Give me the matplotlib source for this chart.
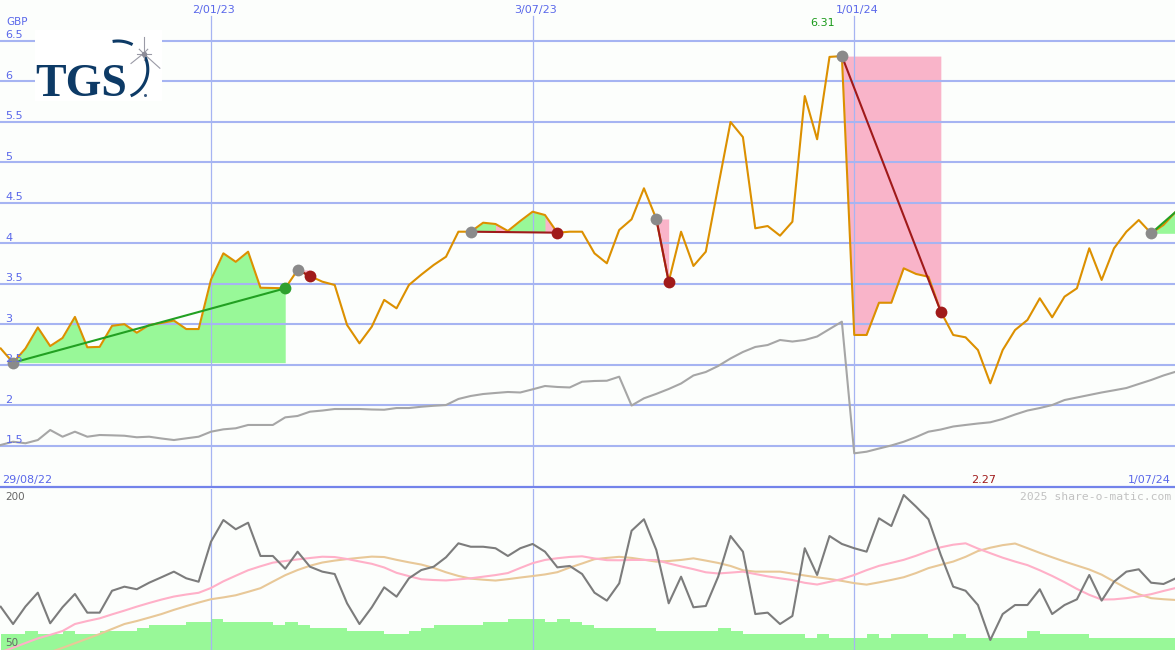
import numpy as np
import pandas as pd
import matplotlib
matplotlib.use("Agg")
import matplotlib.pyplot as plt
import matplotlib.dates as mdates
import matplotlib.transforms as mtransforms
from matplotlib.patches import Rectangle

# ---------------- data ----------------
weeks = pd.date_range("2022-09-05", periods=96, freq="7D")

price = [2.70, 2.525, 2.70, 2.96, 2.73, 2.83, 3.09, 2.715, 2.72, 2.98,
         3.00, 2.895, 2.99, 3.015, 3.045, 2.94, 2.94, 3.55, 3.875, 3.77,
         3.895, 3.45, 3.447, 3.443, 3.67, 3.595, 3.525, 3.484, 2.99, 2.764,
         2.97, 3.30, 3.196, 3.484, 3.612, 3.731, 3.833, 4.142, 4.142, 4.253,
         4.237, 4.151, 4.274, 4.389, 4.348, 4.13, 4.142, 4.142, 3.875, 3.752,
         4.163, 4.295, 4.678, 4.299, 3.525, 4.142, 3.719, 3.895, 4.70, 5.496,
         5.31, 4.184, 4.212, 4.093, 4.265, 5.817, 5.283, 6.30, 6.31, 2.867,
         2.867, 3.265, 3.265, 3.69, 3.62, 3.586, 3.154, 2.867, 2.838, 2.681,
         2.27, 2.681, 2.928, 3.052, 3.32, 3.085, 3.34, 3.443, 3.937, 3.546,
         3.937, 4.142, 4.286, 4.122, 4.225, 4.389]

compare = [1.509, 1.549, 1.53, 1.57, 1.694, 1.611, 1.673, 1.611, 1.632, 1.628,
           1.623, 1.604, 1.611, 1.589, 1.57, 1.591, 1.611, 1.673, 1.702, 1.715,
           1.756, 1.756, 1.756, 1.85, 1.867, 1.92, 1.934, 1.953, 1.953, 1.953,
           1.947, 1.944, 1.965, 1.965, 1.981, 1.993, 2.002, 2.077, 2.114, 2.138,
           2.151, 2.163, 2.157, 2.196, 2.237, 2.225, 2.219, 2.29, 2.299, 2.302,
           2.352, 1.996, 2.085, 2.14, 2.20, 2.268, 2.367, 2.41, 2.484, 2.577,
           2.657, 2.719, 2.743, 2.805, 2.786, 2.805, 2.848, 2.94, 3.031, 1.406,
           1.426, 1.465, 1.503, 1.549, 1.607, 1.673, 1.70, 1.737, 1.756, 1.774,
           1.789, 1.83, 1.885, 1.934, 1.965, 2.002, 2.064, 2.095, 2.126, 2.157,
           2.184, 2.212, 2.262, 2.311, 2.367, 2.414]

osc = [90.3, 74.2, 90.5, 103.4, 74.9, 89.9, 102.2, 84.8, 84.8, 105.2,
       109, 106.6, 112.7, 117.8, 123, 116.8, 113.6, 150.9, 171.1, 162.5,
       168.6, 137.6, 137.6, 125.7, 141.6, 127.6, 123, 120.8, 93.5, 74.2,
       89.8, 108.4, 99.7, 116.8, 124.5, 127.6, 136.4, 149.4, 146.2, 146.2,
       144.8, 137.6, 144.8, 148.8, 141.6, 127, 128.3, 120.8, 103.4, 96.0,
       112.1, 161.1, 171.8, 143.2, 93.5, 118.3, 89.8, 91, 118.3, 156.2,
       141.6, 83.5, 84.8, 74.2, 81.7, 144.8, 119.9, 156.2, 148.8, 144.8,
       141.6, 172.7, 165.5, 194.4, 183.5, 171.8, 138.5, 109, 105.2, 91.9,
       59.3, 83.5, 91.9, 91.9, 106.6, 83.5, 91.9, 97.2, 119.9, 96,
       113.6, 123, 125.2, 112.7, 111.5, 116.8]

ma_fast = [48, 52.1, 56.5, 60.8, 64.1, 67.7, 74.2, 77, 79.5, 83.2,
           86.7, 90.4, 93.8, 97, 99.8, 101.7, 103.3, 107.8, 114, 119.2,
           124.3, 128, 131.4, 132.9, 134.4, 135.7, 136.9, 136.6, 134.8, 132.5,
           130.3, 126.9, 121.9, 118.8, 115.9, 115.2, 114.8, 115.8, 116.8, 118.3,
           119.8, 121.7, 126.4, 130.9, 133.9, 135.5, 136.7, 137.3, 135.3, 133.7,
           133.6, 133.9, 133.9, 133.8, 130.7, 127.9, 125.3, 122.4, 121.3, 122.1,
           123, 120.8, 118.6, 116.8, 115.2, 112.6, 111, 113.5, 116.1, 119.9,
           124.4, 128.4, 131.2, 134, 137.8, 142.1, 145.7, 148.1, 149.4, 144.5,
           140.2, 136, 132.4, 129.1, 124.3, 119, 113.2, 106.9, 101.4, 97,
           97.2, 98.3, 99.9, 102, 105, 107.8]

ma_slow = [np.nan, np.nan, np.nan, np.nan,
           48, 52, 56.3, 60.6, 64.9, 69.6, 74.2, 77, 80.2, 83.5,
           87.4, 90.9, 94.2, 97.3, 99, 101, 104.2, 107.6, 113.7, 119.7,
           124.5, 128.5, 131.5, 133.3, 134.7, 135.9, 137, 136.6, 134, 131.7,
           129.6, 126.5, 122.4, 119, 116.5, 115.5, 114.7, 116, 117.5, 118.9,
           120.4, 122.5, 126.8, 130.6, 134.6, 135.8, 136.8, 135.8, 134.1, 132.3,
           132.9, 133.9, 135.4, 133.3, 131.1, 128.3, 124.3, 123, 123, 123,
           121.2, 119.4, 117.7, 116.2, 114.4, 112.3, 110.9, 113, 115.3, 117.8,
           121.7, 126.3, 129.4, 132.4, 136.8, 142.2, 145.3, 147.7, 149.2, 144.9,
           140.5, 136.4, 132.4, 128.7, 125, 120.2, 113.8, 107.6, 102, 98.3,
           97.3, 96.6]

vol_level = [64.6, 64.6, 67.7, 64.6, 64.6, 67.7, 64.6, 64.6, 67.7, 67.7,
             67.7, 70.8, 73.3, 73.3, 73.3, 76.4, 76.4, 78.9, 76.4, 76.4,
             76.4, 76.4, 73.3, 76.4, 73.3, 70.8, 70.8, 70.8, 67.7, 67.7,
             67.7, 64.6, 64.6, 67.7, 70.8, 73.3, 73.3, 73.3, 73.3, 76.4,
             76.4, 78.9, 78.9, 78.9, 76.4, 78.9, 76.4, 73.3, 70.8, 70.8,
             70.8, 70.8, 70.8, 67.7, 67.7, 67.7, 67.7, 67.7, 70.8, 67.7,
             64.6, 64.6, 64.6, 64.6, 64.6, 61.5, 64.6, 61.5, 61.5, 61.5,
             64.6, 61.5, 64.6, 64.6, 64.6, 61.5, 61.5, 64.6, 61.5, 61.5,
             61.5, 61.5, 61.5, 67.7, 64.6, 64.6, 64.6, 64.6, 61.5, 61.5,
             61.5, 61.5, 61.5, 61.5, 61.5, 61.5]

# trades (1-based week numbers)
trade_entry = [2, 25, 39, 54, 69, 94]
trade_exit = [24, 26, 46, 55, 77, 96]
trade_open = [False, False, False, False, False, True]
pink_segments = [(41, 42), (45, 46)]   # drawdown patches inside trade 3

grid_levels = [6.5, 6, 5.5, 5, 4.5, 4, 3.5, 3, 2.5, 2, 1.5]
grid_labels = ["6.5", "6", "5.5", "5", "4.5", "4", "3.5", "3", "2.5", "2", "1.5"]
vline_dates = ["2023-01-02", "2023-07-03", "2024-01-01"]
vline_labels = ["2/01/23", "3/07/23", "1/01/24"]

# ---------------- styling ----------------
BG = "#fcfefc"
GRID = "#a6b4f2"
BLUE_TXT = "#5a68ea"
ORANGE = "#dc9000"
GREEN_FILL = "#98f898"
PINK_FILL = "#f9b4c9"
GREEN_LINE = "#22a022"
DARK_RED = "#a01a1a"
GRAY_DOT = "#8a8a8a"

W, H = 1175, 650
fig = plt.figure(figsize=(W / 100, H / 100), dpi=100, facecolor=BG)

x = mdates.date2num(weeks)
d0 = mdates.date2num(pd.Timestamp("2022-08-29"))
pxw = 12.37
xl = d0 + 7 * (18 - 211 / pxw)
xr = d0 + 7 * (18 + (W - 211) / pxw)

# main price axes: pixel rows 0..487
ax = fig.add_axes([0, (H - 487) / H, 1, 487 / H])
ax.set_facecolor(BG)
ytop = 6.5 + 40.7 / 81.0
ax.set_ylim(ytop - 487 / 81.0, ytop)
ax.set_xlim(xl, xr)
ax.axis("off")

# lower indicator axes: pixel rows 489..650
ax2 = fig.add_axes([0, 0, 1, 161 / H])
ax2.set_facecolor(BG)
ax2.set_ylim(50, 200)
ax2.set_xlim(xl, xr)
ax2.axis("off")

# pixel overlay
axp = fig.add_axes([0, 0, 1, 1], zorder=10)
axp.set_xlim(0, W)
axp.set_ylim(H, 0)
axp.axis("off")
axp.patch.set_visible(False)

price_a = np.array(price)

# grid
for lv in grid_levels:
    ax.axhline(lv, color=GRID, lw=1.5, zorder=2)
for d in vline_dates:
    xv = mdates.date2num(pd.Timestamp(d))
    ax.axvline(xv, ymin=0, ymax=(487 - 16) / 487, color=GRID, lw=0.9, zorder=2)
    ax2.axvline(xv, color=GRID, lw=0.9, zorder=2)

# trade fills
for k, (e, xo) in enumerate(zip(trade_entry, trade_exit)):
    s = slice(e - 1, xo)
    lvl = price_a[e - 1]
    xs, ps = x[s], price_a[s]
    ax.fill_between(xs, ps, lvl, where=ps >= lvl, interpolate=True,
                    color=GREEN_FILL, lw=0, zorder=1)
    ax.fill_between(xs, ps, lvl, where=ps <= lvl, interpolate=True,
                    color=PINK_FILL, lw=0, zorder=1)
    if k == 2:
        for a, b in pink_segments:
            ax.fill_between(x[a - 1:b], price_a[a - 1:b], lvl,
                            color=PINK_FILL, lw=0, zorder=1.1)

# comparison line and price
ax.plot(x, compare, color="#a6a6a6", lw=1.5, zorder=3)
ax.plot(x, price, color=ORANGE, lw=1.5, zorder=4)

# trade lines and markers
for e, xo, op in zip(trade_entry, trade_exit, trade_open):
    p0, p1 = price_a[e - 1], price_a[xo - 1]
    col = GREEN_LINE if p1 > p0 else DARK_RED
    ax.plot([x[e - 1], x[xo - 1]], [p0, p1], color=col, lw=1.5, zorder=5)
    ax.plot(x[e - 1], p0, "o", ms=8.5, color=GRAY_DOT, mew=0, zorder=6)
    if not op:
        mcol = "#2ea02e" if p1 > p0 else DARK_RED
        ax.plot(x[xo - 1], p1, "o", ms=8.5, color=mcol, mew=0, zorder=6)

# lower panel
ax2.bar(x, np.array(vol_level) - 50, bottom=50, width=7, align="edge",
        color=GREEN_FILL, lw=0, zorder=1)
ax2.plot(x, ma_slow, color="#e8c898", lw=1.5, zorder=3)
ax2.plot(x, ma_fast, color="#ffb0c8", lw=1.5, zorder=3)
ax2.plot(x, osc, color="#7c7c7c", lw=1.5, zorder=4)

# separator line
axp.plot([0, W], [486.5, 486.5], color="#7383ea", lw=1.6)

# y labels
ytrans = mtransforms.offset_copy(
    mtransforms.blended_transform_factory(axp.transData, ax.transData),
    fig=fig, y=2.4, units="dots")
for lv, lb in zip(grid_levels, grid_labels):
    axp.text(5.5, lv, lb, transform=ytrans, fontsize=8, color=BLUE_TXT,
             va="baseline", ha="left", family="DejaVu Sans")
axp.text(6, 25, "GBP", fontsize=7.5, color=BLUE_TXT, va="baseline", ha="left")

# date labels at top
xtrans = mtransforms.blended_transform_factory(ax.transData, axp.transData)


def shifted(dx):
    return mtransforms.offset_copy(xtrans, fig=fig, x=dx, units="dots")


for d, lb in zip(vline_dates, vline_labels):
    xv = mdates.date2num(pd.Timestamp(d))
    axp.text(xv, 13.3, lb, transform=shifted(3), fontsize=8, color=BLUE_TXT,
             ha="center", va="baseline")

# max / min labels
imax = int(np.argmax(price_a))
imin = int(np.argmin(price_a))
axp.text(x[imax], 26, f"{price_a[imax]:.2f}", transform=shifted(-19), fontsize=8,
         color="#1a9a1a", ha="center", va="baseline")
axp.text(x[imin], 483, f"{price_a[imin]:.2f}", transform=shifted(-7), fontsize=8,
         color=DARK_RED, ha="center", va="baseline")

axp.text(2, 483, "29/08/22", fontsize=8, color=BLUE_TXT, ha="left", va="baseline")
axp.text(1171, 483, "1/07/24", fontsize=8, color=BLUE_TXT, ha="right", va="baseline")
axp.text(1171, 500, "2025 share-o-matic.com", fontsize=8.2, color="#c2c2c2",
         ha="right", va="baseline", family="DejaVu Sans Mono")
axp.text(5, 499.5, "200", fontsize=7.5, color="#666666", ha="left", va="baseline")
axp.text(5.5, 646, "50", fontsize=7.5, color="#666666", ha="left", va="baseline")

# logo
axp.add_patch(Rectangle((35, 30), 127, 71, facecolor="white", edgecolor="none"))
axp.text(35, 95.5, "TGS", fontsize=33, fontweight="bold", color="#0d3a66",
         family="Liberation Serif", ha="left", va="baseline")
th = np.linspace(np.radians(-100), np.radians(-62), 30)
axp.plot(118 + 31 * np.cos(th), 72 + 31 * np.sin(th), color="#0d3a66", lw=2.2,
         solid_capstyle="butt")
th = np.linspace(np.radians(-30), np.radians(62), 40)
r = 31 - 4 * (th - th[0]) / (th[-1] - th[0])
axp.plot(118 + r * np.cos(th), 72 + r * np.sin(th), color="#0d3a66", lw=2.2,
         solid_capstyle="butt")
cx, cy = 143.5, 53.5
for dx, dy, L in [(0, -1, 17), (0, 1, 6), (1, 0, 7), (-1, 0, 7),
                  (-1, 0.8, 16), (1, 0.9, 22), (1, -1, 6), (-1, -1, 6)]:
    n = np.hypot(dx, dy)
    axp.plot([cx, cx + dx / n * L], [cy, cy + dy / n * L], color="#9a9aa6",
             lw=0.8)
axp.plot(cx, cy, "o", ms=4, color="#8c8c98", mew=0)
axp.plot(145, 94.5, "o", ms=2.2, color="#3a5a80", mew=0)

fig.savefig("out.png", dpi=100, facecolor=BG)
